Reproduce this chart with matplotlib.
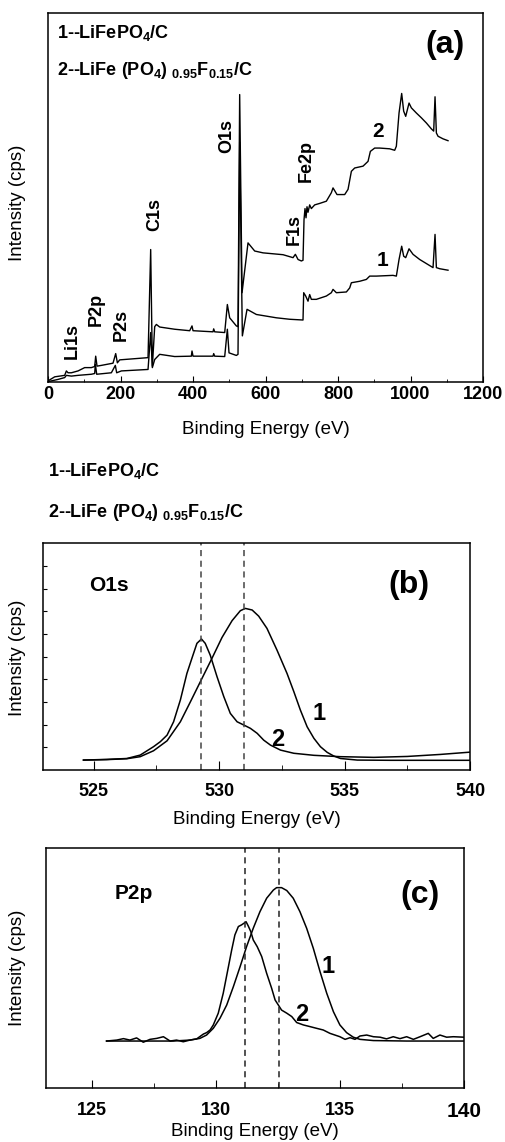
import matplotlib
matplotlib.use('Agg')
import matplotlib.pyplot as plt

plt.rcParams['font.family'] = ['Liberation Sans', 'DejaVu Sans']
plt.rcParams['mathtext.default'] = 'regular'

# ---- (a) survey spectra, binding energy (eV) / intensity (a.u.) ----
survey_e1 = [0, 27.6, 46.0, 50.6, 64.4, 82.8, 119.5, 128.7, 130.6, 134.3, 174.7, 185.7,
             189.4, 202.3, 275.9, 283.2, 287.8, 294.3, 308.0, 349.4, 395.4, 397.2, 400.0,
             455.2, 457.0, 459.8, 487.4, 494.7, 499.3, 519.5, 524.1, 528.7, 536.1, 549.0,
             574.7, 629.9, 666.7, 703.4, 705.3, 710.8, 717.2, 721.8, 726.4, 740.2, 767.8,
             781.6, 786.2, 795.4, 823.0, 832.2, 836.8, 859.8, 878.2, 887.4, 905.7, 951.7,
             960.9, 968.3, 975.6, 981.1, 986.7, 995.9, 1006.9, 1025.3, 1043.7, 1062.1,
             1067.6, 1071.3, 1080.5, 1103.4]
survey_i1 = [0.1, 0.7, 1.2, 1.8, 1.6, 1.8, 2.1, 2.3, 4.8, 2.1, 2.5, 4.5,
             2.5, 3.0, 3.4, 13.4, 3.9, 6.1, 7.5, 6.9, 7.0, 8.4, 7.0,
             7.0, 7.7, 7.0, 6.9, 14.3, 7.9, 7.2, 7.5, 65.0, 12.5, 19.7,
             18.3, 17.4, 17.0, 16.8, 24.2, 23.3, 21.9, 23.7, 22.4, 22.4, 23.3,
             24.2, 25.1, 24.2, 24.4, 25.5, 26.9, 27.3, 27.8, 28.7, 28.7, 28.9,
             28.7, 33.2, 36.8, 34.1, 33.7, 36.1, 34.6, 33.2, 32.1, 31.0,
             40.0, 31.0, 30.7, 30.3]

survey_e2 = [0, 18.4, 32.2, 46.0, 50.6, 55.2, 64.4, 82.8, 101.1, 119.5, 128.7, 131.5,
             135.2, 147.1, 179.3, 186.7, 191.3, 197.8, 275.9, 283.2, 287.8, 294.3, 298.9,
             308.0, 349.4, 390.8, 397.2, 400.0, 455.2, 457.0, 459.8, 487.4, 494.7, 501.1,
             519.5, 524.1, 528.7, 535.2, 551.7, 570.1, 593.1, 648.3, 675.9, 682.3, 689.7,
             698.9, 703.4, 706.2, 708.9, 711.7, 714.4, 717.2, 721.8, 726.4, 735.6, 749.4,
             767.8, 781.6, 786.2, 797.2, 818.4, 827.6, 836.8, 846.0, 869.0, 882.8, 889.2,
             901.1, 914.9, 942.5, 956.3, 960.9, 968.3, 975.6, 981.1, 986.7, 995.9, 1002.3,
             1016.1, 1029.9, 1043.7, 1057.5, 1063.9, 1067.6, 1071.3, 1075.9, 1089.7, 1103.4]
survey_i2 = [0.3, 1.4, 1.6, 1.8, 3.0, 2.5, 2.5, 3.0, 3.9, 3.9, 4.2, 7.0,
             4.3, 4.5, 5.1, 7.7, 5.2, 6.0, 6.6, 35.9, 4.3, 15.0, 15.6,
             14.9, 14.3, 13.9, 15.2, 13.9, 13.6, 14.4, 13.6, 13.4, 21.0, 17.4,
             15.2, 15.0, 77.9, 24.2, 37.7, 35.5, 35.0, 34.5, 33.7, 34.6, 33.2,
             32.8, 33.0, 44.0, 47.0, 44.5, 47.5, 46.0, 48.0, 47.0, 48.0, 48.4,
             49.0, 51.3, 52.6, 50.8, 50.8, 52.2, 57.1, 58.0, 58.5, 59.8, 62.5,
             63.4, 63.4, 63.2, 62.8, 63.9, 72.9, 78.2, 73.4, 72.0, 75.6, 74.3,
             72.9, 71.6, 70.2, 68.6, 68.0, 77.3, 67.5, 66.6, 65.9, 65.4]

peak_names = ['Li1s', 'P2p', 'P2s', 'C1s', 'O1s', 'F1s', 'Fe2p']
peak_label_e = [67, 133, 202, 294, 492, 680, 711]
peak_label_i = [11.1, 19.7, 15.6, 45.4, 66.6, 41.3, 59.8]

# ---- (b) O1s ----
o1s_e1 = [524.60, 525.53, 526.33, 526.86, 527.39, 527.93, 528.46, 528.86, 529.32, 529.72,
          530.12, 530.52, 530.85, 531.05, 531.32, 531.58, 531.91, 532.31, 532.71, 532.98,
          533.24, 533.51, 533.78, 534.04, 534.31, 534.57, 534.84, 535.51, 536.84, 540.0]
o1s_i1 = [4.4, 4.6, 5.0, 5.9, 8.5, 12.9, 21.3, 30.1, 40.4, 49.3,
          58.5, 65.9, 70.3, 71.3, 70.6, 67.9, 62.5, 52.9, 42.6, 34.6,
          26.5, 19.1, 14.0, 10.3, 7.8, 6.2, 5.1, 4.4, 4.3, 4.3]
o1s_e2 = [524.60, 525.53, 526.33, 526.86, 527.39, 527.66, 527.93, 528.19, 528.46, 528.72,
          528.92, 529.12, 529.30, 529.45, 529.65, 529.92, 530.19, 530.45, 530.72, 530.98,
          531.25, 531.52, 531.78, 532.05, 532.45, 532.98, 533.78, 534.84, 536.17, 537.50,
          538.83, 540.0]
o1s_i2 = [4.4, 4.7, 5.1, 6.6, 10.3, 12.5, 15.4, 21.3, 30.9, 42.6,
          49.3, 55.9, 57.8, 55.9, 50.7, 41.2, 32.4, 25.0, 21.3, 19.9,
          18.4, 16.2, 13.2, 11.0, 8.8, 7.4, 6.5, 5.9, 5.6, 6.0,
          6.9, 7.9]
o1s_marks = [529.3, 531.0]

# ---- (c) P2p ----
p2p_e1 = [125.60, 126.95, 128.29, 128.96, 129.36, 129.63, 129.90, 130.17, 130.44, 130.71,
          130.98, 131.24, 131.51, 131.78, 132.05, 132.32, 132.45, 132.65, 132.86, 133.12,
          133.39, 133.66, 133.93, 134.20, 134.47, 134.74, 135.00, 135.27, 135.54, 135.81,
          136.35, 137.69, 140.0]
p2p_i1 = [19.7, 19.7, 19.7, 20.1, 20.8, 22.2, 25.0, 29.2, 34.7, 42.4,
          50.7, 59.0, 66.7, 73.6, 79.2, 82.6, 83.6, 83.6, 82.4, 79.2,
          73.6, 66.7, 58.3, 48.6, 39.6, 31.9, 26.4, 23.2, 21.3, 20.4,
          19.9, 19.7, 19.7]
p2p_e2 = [125.60, 126.01, 126.28, 126.54, 126.81, 127.08, 127.35, 127.62, 127.89, 128.16,
          128.42, 128.69, 128.96, 129.23, 129.50, 129.63, 129.77, 129.90, 130.10, 130.30,
          130.51, 130.64, 130.77, 130.91, 131.04, 131.14, 131.22, 131.31, 131.41, 131.51,
          131.67, 131.85, 132.05, 132.25, 132.39, 132.52, 132.65, 132.86, 133.06, 133.26,
          133.53, 133.80, 134.06, 134.33, 134.60, 134.80, 135.00, 135.21, 135.41, 135.61,
          135.81, 136.08, 136.35, 136.62, 136.88, 137.15, 137.42, 137.69, 137.96, 138.23,
          138.56, 138.76, 139.03, 139.30, 139.57, 140.0]
p2p_i2 = [19.7, 20.1, 20.7, 20.1, 21.0, 19.2, 20.4, 20.8, 21.5, 19.7,
          20.1, 19.4, 20.1, 20.6, 22.6, 23.2, 24.3, 26.4, 31.3, 39.6,
          50.7, 57.6, 63.9, 67.4, 68.1, 68.8, 69.4, 67.6, 65.3, 61.8,
          59.0, 54.9, 47.9, 41.7, 36.8, 34.7, 32.6, 31.3, 29.9, 27.4,
          26.4, 25.7, 25.0, 24.3, 22.9, 22.2, 21.5, 20.4, 21.1, 20.4,
          21.8, 22.2, 21.5, 21.3, 20.6, 21.5, 20.7, 21.5, 20.4, 21.5,
          22.9, 20.8, 22.2, 21.3, 21.5, 21.3]
p2p_marks = [131.18, 132.56]

leg1 = '1--LiFePO$_4$/C'
leg2 = '2--LiFe (PO$_4$) $_{0.95}$F$_{0.15}$/C'
xlab = 'Binding Energy (eV)'
ylab = 'Intensity (cps)'

fig = plt.figure(figsize=(5.06, 11.42), dpi=100)

def style(ax):
    for s in ax.spines.values():
        s.set_linewidth(1.1)
    ax.tick_params(which='both', direction='in', labelsize=13, top=False, right=False)
    for t in ax.get_xticklabels():
        t.set_fontweight('bold')
    ax.set_xlabel(xlab, fontsize=13.5)
    ax.set_ylabel(ylab, fontsize=13.5)
    ax.xaxis.label.set_va('center')
    ax.yaxis.label.set_va('center')

# (a)
ax = fig.add_axes([0.0949, 0.6655, 0.8597, 0.3231])
ax.plot(survey_e1, survey_i1, color='k', lw=1.0)
ax.plot(survey_e2, survey_i2, color='k', lw=1.0)
ax.set_xlim(0, 1200)
ax.set_ylim(0, 100)
ax.set_xticks(range(0, 1201, 200))
ax.set_xticks(range(100, 1200, 200), minor=True)
ax.set_yticks([])
ax.tick_params(axis='x', which='major', length=4, pad=3)
ax.tick_params(axis='x', which='minor', length=2.5)
style(ax)
ax.xaxis.set_label_coords(0.5, -0.130)
ax.yaxis.set_label_coords(-0.070, 0.485)
ax.text(0.020, 0.933, leg1, transform=ax.transAxes, fontsize=13, fontweight='bold')
ax.text(0.020, 0.832, leg2, transform=ax.transAxes, fontsize=13, fontweight='bold')
ax.text(0.912, 0.914, '(a)', transform=ax.transAxes, fontsize=23, fontweight='bold',
        ha='center', va='center')
for name, e, i in zip(peak_names, peak_label_e, peak_label_i):
    ax.text(e, i, name, rotation=90, fontsize=13, fontweight='bold', ha='center', va='center')
ax.text(910, 68.0, '2', fontsize=15, fontweight='bold', ha='center', va='center')
ax.text(922, 32.8, '1', fontsize=15, fontweight='bold', ha='center', va='center')

# legend above (b)
fig.text(0.0949, 0.5832, leg1, fontsize=13, fontweight='bold')
fig.text(0.0949, 0.5475, leg2, fontsize=13, fontweight='bold')

# (b)
ax = fig.add_axes([0.0856, 0.3257, 0.8433, 0.1985])
ax.plot(o1s_e1, o1s_i1, color='k', lw=1.1)
ax.plot(o1s_e2, o1s_i2, color='k', lw=1.1)
for m in o1s_marks:
    ax.axvline(m, color='#444444', lw=1.1, ls=(0, (4, 3)))
ax.set_xlim(523.0, 540)
ax.set_ylim(0, 100)
ax.set_xticks([525, 530, 535, 540])
ax.set_xticks([527.5, 532.5, 537.5], minor=True)
ax.set_yticks(range(10, 100, 10))
ax.set_yticklabels([])
ax.tick_params(axis='x', which='major', length=6.5, pad=9)
ax.tick_params(axis='x', which='minor', length=3.5)
ax.tick_params(axis='y', length=3)
style(ax)
ax.xaxis.set_label_coords(0.5, -0.2175)
ax.yaxis.set_label_coords(-0.0605, 0.494)
ax.text(525.6, 81.6, 'O1s', fontsize=15, fontweight='bold', ha='center', va='center')
ax.text(537.57, 81.6, '(b)', fontsize=23, fontweight='bold', ha='center', va='center')
ax.text(533.98, 25.0, '1', fontsize=17, fontweight='bold', ha='center', va='center')
ax.text(532.34, 13.5, '2', fontsize=17, fontweight='bold', ha='center', va='center')

# (c)
ax = fig.add_axes([0.0909, 0.0470, 0.8261, 0.2102])
ax.plot(p2p_e1, p2p_i1, color='k', lw=1.1)
ax.plot(p2p_e2, p2p_i2, color='k', lw=1.1)
for m in p2p_marks:
    ax.axvline(m, color='#222222', lw=1.1, ls=(0, (4, 3)))
ax.set_xlim(123.16, 140)
ax.set_ylim(0, 100)
ax.set_xticks([125, 130, 135, 140])
ax.set_xticks([127.5, 132.5, 137.5], minor=True)
ax.set_yticks([])
ax.tick_params(axis='x', which='major', length=6, pad=10)
ax.tick_params(axis='x', which='minor', length=3.5)
style(ax)
ax.get_xticklabels()[-1].set_fontsize(15)
ax.xaxis.set_label_coords(0.5, -0.181)
ax.yaxis.set_label_coords(-0.0682, 0.501)
ax.text(126.68, 81.3, 'P2p', fontsize=15, fontweight='bold', ha='center', va='center')
ax.text(138.23, 80.6, '(c)', fontsize=23, fontweight='bold', ha='center', va='center')
ax.text(134.53, 50.7, '1', fontsize=17, fontweight='bold', ha='center', va='center')
ax.text(133.46, 30.6, '2', fontsize=17, fontweight='bold', ha='center', va='center')

fig.savefig('out.png', dpi=100)
